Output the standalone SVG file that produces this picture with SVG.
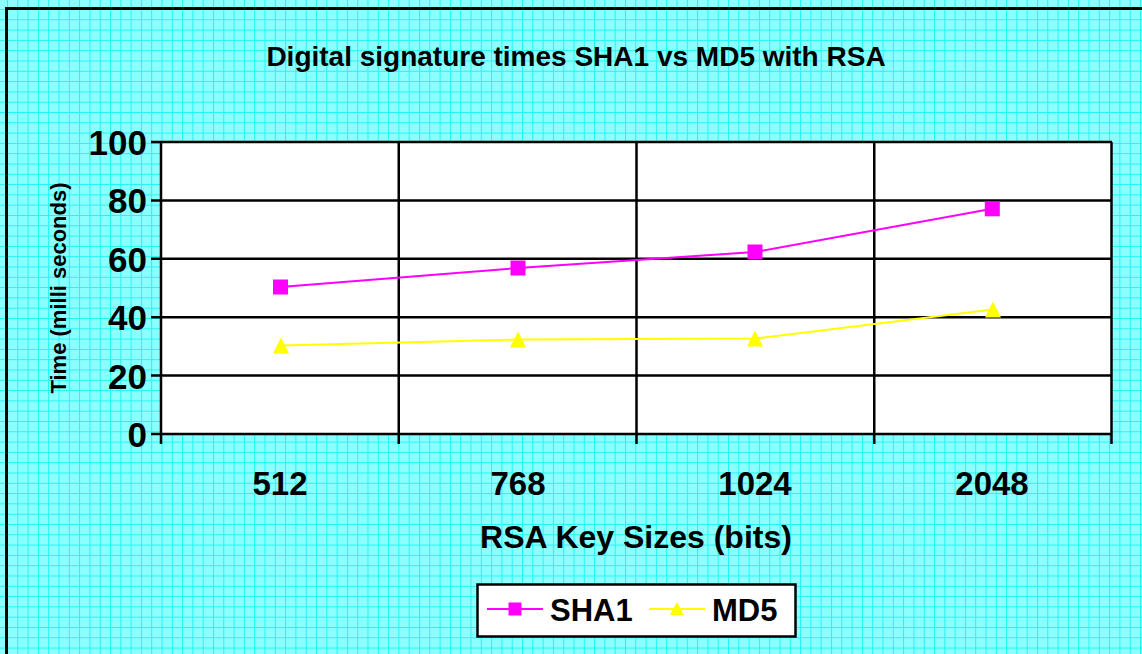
<svg xmlns="http://www.w3.org/2000/svg" xmlns:xlink="http://www.w3.org/1999/xlink" width="1142" height="654" viewBox="0 0 1142 654">
<style>
text{font-family:"Liberation Sans",Arial,sans-serif;font-weight:bold;fill:#000}
.grid{stroke:#000;stroke-width:2.5;fill:none}
.axis{stroke:#000;stroke-width:2.5;fill:none}
.sha{stroke:#FF00FF;stroke-width:2;fill:none}
.md5{stroke:#FFFF00;stroke-width:2;fill:none}
.lbl{font-size:33px}
.ylbl{font-size:35px}
</style>
<defs>
<pattern id="bg" x="7" y="9" width="10.3" height="10.3" patternUnits="userSpaceOnUse">
<rect width="10.3" height="10.3" fill="#8CFFFF"/>
<path d="M0 0.5H10.3M0.5 0V10.3" stroke="#1EF5F5" stroke-width="1"/>
</pattern>
<rect id="sq" x="-7.5" y="-7.5" width="15" height="15" fill="#FF00FF"/>
<polygon id="tri" points="0,-8 -8,8 8,8" fill="#FFFF00"/>
</defs>
<g id="background">
<rect x="0" y="0" width="1142" height="654" fill="url(#bg)"/>
<rect x="6.5" y="8.5" width="1145" height="660" fill="none" stroke="#000" stroke-width="3"/>
</g>
<g id="title"><text x="576" y="66" font-size="28" text-anchor="middle">Digital signature times SHA1 vs MD5 with RSA</text></g>
<g id="plot">
<rect x="161" y="142" width="951" height="292" fill="#fff"/>
<path class="grid" d="M151 142H1112M151 200.4H1112M151 258.8H1112M151 317.2H1112M151 375.6H1112"/>
<path class="grid" d="M398.75 142V444M636.5 142V444M874.25 142V444"/>
<path class="axis" d="M1111.5 142V444M161 142V444M151 434H1112"/>
</g>
<g id="y-labels">
<text x="147" y="155" text-anchor="end" class="ylbl">100</text>
<text x="147" y="213.4" text-anchor="end" class="ylbl">80</text>
<text x="147" y="271.8" text-anchor="end" class="ylbl">60</text>
<text x="147" y="330.2" text-anchor="end" class="ylbl">40</text>
<text x="147" y="388.6" text-anchor="end" class="ylbl">20</text>
<text x="147" y="447" text-anchor="end" class="ylbl">0</text>
</g>
<g id="x-labels">
<text x="280" y="495" text-anchor="middle" class="lbl">512</text>
<text x="518" y="495" text-anchor="middle" class="lbl">768</text>
<text x="755" y="495" text-anchor="middle" class="lbl">1024</text>
<text x="992" y="495" text-anchor="middle" class="lbl">2048</text>
</g>
<g id="x-title"><text x="636" y="548" text-anchor="middle" font-size="32">RSA Key Sizes (bits)</text></g>
<g id="y-title"><text transform="translate(66,288) rotate(-90)" text-anchor="middle" font-size="22">Time (milli seconds)</text></g>
<g id="connectors">
<polyline class="sha" points="280.5,287 518,268 755,252 992.3,208.8"/>
<polyline class="md5" points="281,345.5 518,339.5 755,338.5 993,309.5"/>
</g>
<g id="series-sha1">
<use xlink:href="#sq" x="280.5" y="287"/>
<use xlink:href="#sq" x="518" y="268"/>
<use xlink:href="#sq" x="755" y="252"/>
<use xlink:href="#sq" x="992.3" y="208.8"/>
</g>
<g id="series-md5">
<use xlink:href="#tri" x="281" y="345.5"/>
<use xlink:href="#tri" x="518" y="339.5"/>
<use xlink:href="#tri" x="755" y="338.5"/>
<use xlink:href="#tri" x="993" y="309.5"/>
</g>
<g id="legend">
<rect x="477.5" y="584.5" width="318" height="52" fill="#fff" stroke="#000" stroke-width="2.5"/>
<path class="sha" d="M487 609H543"/>
<rect x="508.5" y="602.5" width="13" height="13" fill="#FF00FF"/>
<text x="550" y="621" font-size="31">SHA1</text>
<path class="md5" d="M649 609H705"/>
<polygon points="677,602 670,615 684,615" fill="#FFFF00"/>
<text x="712" y="621" font-size="31">MD5</text>
</g>
</svg>
